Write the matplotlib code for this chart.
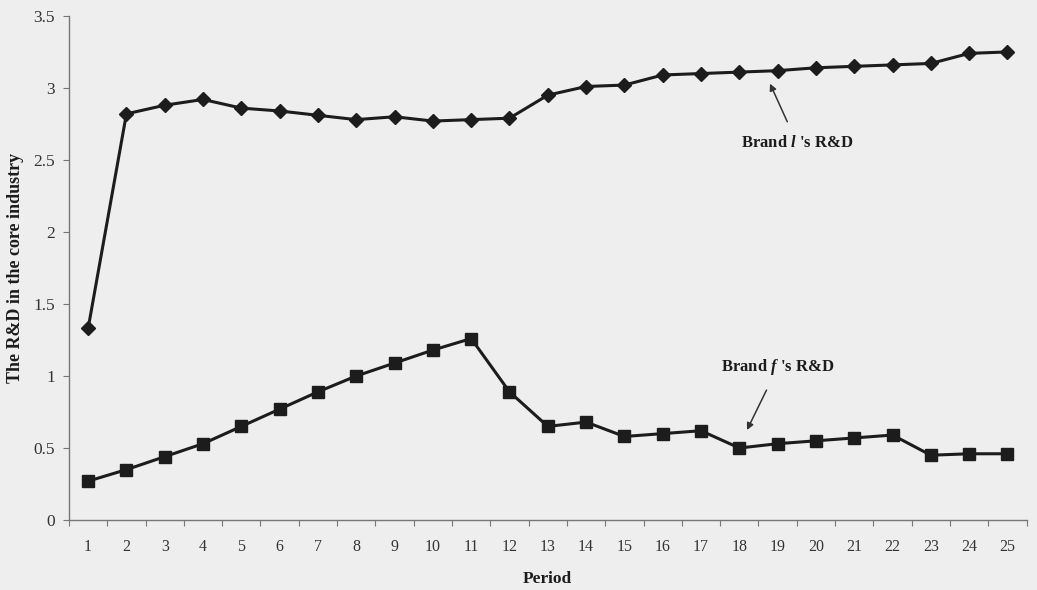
import numpy as np
import matplotlib

matplotlib.use("Agg")
import matplotlib.pyplot as plt

# ── Data ────────────────────────────────────────────────────────
periods = list(range(1, 26))
brand_l_rd = [1.33, 2.82, 2.88, 2.92, 2.86, 2.84, 2.81, 2.78, 2.80, 2.77,
              2.78, 2.79, 2.95, 3.01, 3.02, 3.09, 3.10, 3.11, 3.12, 3.14,
              3.15, 3.16, 3.17, 3.24, 3.25]
brand_f_rd = [0.27, 0.35, 0.44, 0.53, 0.65, 0.77, 0.89, 1.00, 1.09, 1.18,
              1.26, 0.89, 0.65, 0.68, 0.58, 0.60, 0.62, 0.50, 0.53, 0.55,
              0.57, 0.59, 0.45, 0.46, 0.46]
y_ticks = [0, 0.5, 1, 1.5, 2, 2.5, 3, 3.5]
y_tick_labels = ["0", "0.5", "1", "1.5", "2", "2.5", "3", "3.5"]

# ── Style ───────────────────────────────────────────────────────
plt.rcParams.update({
    "font.family": "Liberation Serif",
    "mathtext.fontset": "custom",
    "mathtext.it": "Liberation Serif:italic:bold",
    "mathtext.rm": "Liberation Serif:bold",
})
bg = "#eeeeee"
ink = "#1c1c1c"

fig = plt.figure(figsize=(10.37, 5.90), dpi=100, facecolor=bg)
ax = fig.add_axes([0.0665, 0.1186, 0.9235, 0.8544], facecolor=bg)

ax.plot(periods, brand_l_rd, color=ink, linewidth=2.2, marker="D",
        markersize=7, markerfacecolor=ink, markeredgecolor=ink, zorder=3)
ax.plot(periods, brand_f_rd, color=ink, linewidth=2.2, marker="s",
        markersize=8, markerfacecolor=ink, markeredgecolor=ink, zorder=3)

# ── Annotations ─────────────────────────────────────────────────
ax.annotate("Brand $l$ 's R&D", xy=(18.8, 3.03), xytext=(19.5, 2.62),
            ha="center", va="center", fontsize=12, fontweight="bold",
            color=ink,
            arrowprops=dict(arrowstyle="-|>", color="#333333", lw=1.1,
                            mutation_scale=10, shrinkA=8, shrinkB=0))
ax.annotate("Brand $f$ 's R&D", xy=(18.2, 0.625), xytext=(19.0, 1.06),
            ha="center", va="center", fontsize=12, fontweight="bold",
            color=ink,
            arrowprops=dict(arrowstyle="-|>", color="#333333", lw=1.1,
                            mutation_scale=10, shrinkA=8, shrinkB=0))

# ── Axes ────────────────────────────────────────────────────────
ax.set_xlim(0.5, 25.5)
ax.set_ylim(0, 3.5)
ax.set_yticks(y_ticks)
ax.set_yticklabels(y_tick_labels, fontsize=12.5, color="#333333")

# category axis: ticks on the boundaries, labels at the centres
ax.set_xticks(np.arange(0.5, 26, 1))
ax.set_xticklabels([])
ax.set_xticks(periods, minor=True)
ax.set_xticklabels([str(p) for p in periods], minor=True, fontsize=11.5,
                   color="#333333")
ax.tick_params(axis="x", which="major", direction="out", length=4,
               color="#777777")
ax.tick_params(axis="x", which="minor", length=0, pad=14)
ax.tick_params(axis="y", direction="out", length=4, color="#777777", pad=6)

for side in ("top", "right"):
    ax.spines[side].set_visible(False)
for side in ("left", "bottom"):
    ax.spines[side].set_color("#777777")
    ax.spines[side].set_linewidth(1.0)

ax.set_xlabel("Period", fontsize=12.5, fontweight="bold", color=ink,
              labelpad=11)
ax.set_ylabel("The R&D in the core industry", fontsize=13,
              fontweight="bold", color=ink, labelpad=7)

fig.savefig("out.png", dpi=100, facecolor=bg)
